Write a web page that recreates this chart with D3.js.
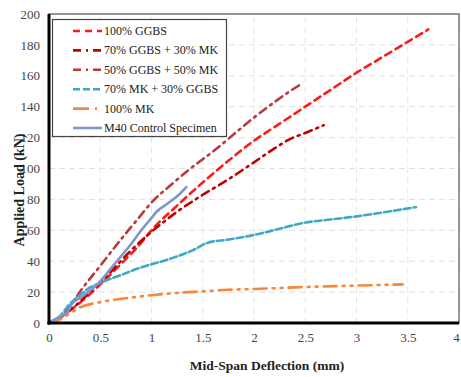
<!DOCTYPE html>
<html>
<head>
<meta charset="utf-8">
<script src="https://cdn.jsdelivr.net/npm/d3@7"></script>
<style>
  body { margin: 0; background: #fff; }
  svg { display: block; }
</style>
</head>
<body>
<script>
// series names (legend order)
const seriesNames = ['100% GGBS', '70% GGBS + 30% MK', '50% GGBS + 50% MK',
                     '70% MK + 30% GGBS', '100% MK', 'M40 Control Specimen'];

// [deflection mm, load kN]
const ggbs100 = [[0,0],[0.1,3],[0.2,8],[0.3,13],[0.5,25],[0.7,38],[0.9,52],[1,60],[1.25,76],
  [1.5,91],[1.75,105],[2,118],[2.25,129],[2.5,140],[2.75,151],[3,162],[3.25,172],[3.5,182],[3.7,190]];
const ggbs70mk30 = [[0,0],[0.2,8],[0.4,20],[0.6,33],[0.8,47],[1,59],[1.25,72],[1.5,83],
  [1.75,93],[2,104],[2.2,113],[2.35,119],[2.5,123],[2.68,128]];
const ggbs50mk50 = [[0,0],[0.1,3],[0.2,10],[0.3,20],[0.5,37],[0.7,54],[0.85,66],[1,78],
  [1.2,90],[1.4,101],[1.6,111],[1.8,122],[2,133],[2.2,143],[2.35,150],[2.47,155]];
const mk70ggbs30 = [[0,0],[0.1,4],[0.2,12],[0.3,18],[0.4,23],[0.5,26],[0.7,31],[0.9,36],[1,38],
  [1.2,42],[1.4,47],[1.55,52],[1.75,54],[2,57],[2.25,61],[2.5,65],[2.75,67],[3,69],[3.3,72],[3.58,75]];
const mk100 = [[0,0],[0.1,2],[0.2,6],[0.3,10],[0.5,13.5],[0.75,16],[1,18],[1.25,19.5],[1.5,20.5],
  [1.75,21.5],[2,22],[2.5,23.3],[3,24.2],[3.45,25]];
const m40 = [[0,0],[0.05,2],[0.1,4],[0.18,7],[0.22,12],[0.3,16],[0.4,21],[0.5,27],[0.6,35],[0.7,43],
  [0.8,51],[0.9,60],[1,68],[1.05,72],[1.15,77],[1.25,82],[1.34,88]];

const xTicks = [0, 0.5, 1, 1.5, 2, 2.5, 3, 3.5, 4];
const yTicks = [0, 20, 40, 60, 80, 100, 120, 140, 160, 180, 200];

const allSeries = [ggbs100, ggbs70mk30, ggbs50mk50, mk70ggbs30, mk100, m40];
const colors = ['#ff1a1a', '#c00000', '#b83a3a', '#3fa8c8', '#f7873a', '#7b97cf'];
const dashes = ['7,5', '8,5,2,5', '8,5,2,5', '7,3', '13,6,2,6,2,6', null];

const width = 461, height = 377;
const margin = {top: 14, right: 2, bottom: 54, left: 49};

const svg = d3.select('body').append('svg')
  .attr('width', width).attr('height', height);

const x = d3.scaleLinear().domain([0, 4]).range([margin.left, width - margin.right]);
const y = d3.scaleLinear().domain([0, 200]).range([height - margin.bottom, margin.top]);

// grid
svg.append('g').selectAll('line').data(yTicks.slice(1)).join('line')
  .attr('x1', x(0)).attr('x2', x(4))
  .attr('y1', d => y(d)).attr('y2', d => y(d))
  .attr('stroke', '#e0e0e0').attr('stroke-dasharray', '6,4');
svg.append('g').selectAll('line').data(xTicks.slice(1)).join('line')
  .attr('y1', y(0)).attr('y2', y(200))
  .attr('x1', d => x(d)).attr('x2', d => x(d))
  .attr('stroke', '#e6e6e6').attr('stroke-dasharray', '6,4');

// frame
svg.append('rect')
  .attr('x', x(0)).attr('y', y(200))
  .attr('width', x(4) - x(0)).attr('height', y(0) - y(200))
  .attr('fill', 'none').attr('stroke', '#777').attr('stroke-width', 1.5);

// series
const line = d3.line().x(d => x(d[0])).y(d => y(d[1])).curve(d3.curveMonotoneX);
svg.append('g').selectAll('path').data(allSeries).join('path')
  .attr('d', line)
  .attr('fill', 'none')
  .attr('stroke', (d, i) => colors[i])
  .attr('stroke-width', 2.6)
  .attr('stroke-linecap', 'round')
  .attr('stroke-dasharray', (d, i) => dashes[i]);

// axes
const xAxis = d3.axisBottom(x).tickValues(xTicks).tickSize(0).tickPadding(10)
  .tickFormat(d3.format('~g'));
const gx = svg.append('g').attr('transform', `translate(0,${y(0)})`).call(xAxis);
const yAxis = d3.axisLeft(y).tickValues(yTicks).tickSize(0).tickPadding(9);
const gy = svg.append('g').attr('transform', `translate(${x(0)},0)`).call(yAxis);
[gx, gy].forEach(g => {
  g.select('.domain').attr('stroke', '#000').attr('stroke-width', 3);
  g.selectAll('text').attr('font-family', 'Liberation Serif').attr('font-size', 13).attr('fill', '#444');
});
gx.select('.domain').attr('d', `M${x(0) - 1.5},0H${x(4)}`);
gy.select('.domain').attr('d', `M0,${y(200)}V${y(0) + 1.5}`);
// keep the last x label inside the window
gx.selectAll('.tick text').filter(d => d === 4).attr('dx', -3);

// axis titles
svg.append('text')
  .attr('x', 267).attr('y', 370)
  .attr('text-anchor', 'middle')
  .attr('font-family', 'Liberation Serif').attr('font-weight', 'bold').attr('font-size', 13.5)
  .attr('fill', '#222')
  .text('Mid-Span Deflection (mm)');
svg.append('text')
  .attr('transform', 'translate(24,190) rotate(-90)')
  .attr('text-anchor', 'middle')
  .attr('font-family', 'Liberation Serif').attr('font-weight', 'bold').attr('font-size', 14)
  .attr('fill', '#222')
  .text('Applied Load (kN)');

// legend
const legend = svg.append('g');
legend.append('rect')
  .attr('x', 52.5).attr('y', 19.5).attr('width', 174).attr('height', 117)
  .attr('fill', '#fff').attr('stroke', '#444').attr('stroke-width', 1.2);
const rows = legend.selectAll('g.row').data(seriesNames).join('g')
  .attr('transform', (d, i) => `translate(0,${31 + i * 19.4})`);
rows.append('line')
  .attr('x1', 73).attr('x2', 102).attr('y1', 0).attr('y2', 0)
  .attr('stroke', (d, i) => colors[i])
  .attr('stroke-width', 2.6)
  .attr('stroke-dasharray', (d, i) => i === 4 ? '16,6,2,6' : dashes[i]);
rows.append('text')
  .attr('x', 104).attr('y', 4)
  .attr('font-family', 'Liberation Serif').attr('font-size', 12)
  .attr('fill', '#222')
  .text(d => d);
</script>
</body>
</html>
